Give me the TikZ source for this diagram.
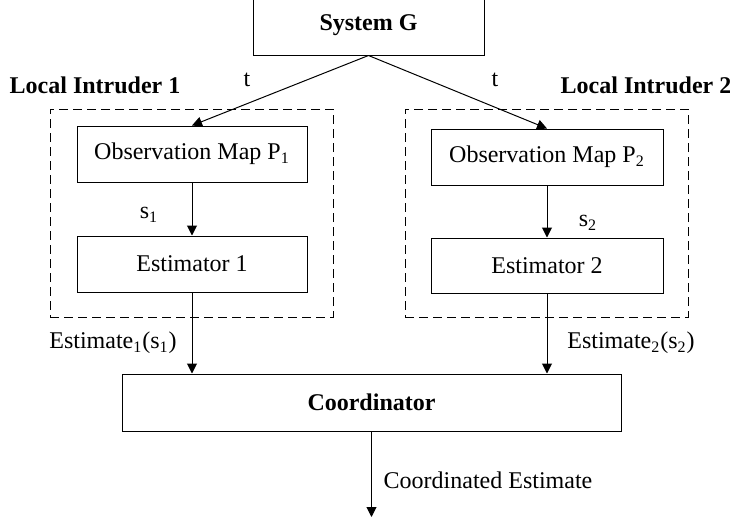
\documentclass[tikz,border=0pt]{standalone}
\usepackage{fontspec}
\setmainfont{Liberation Serif}
\usetikzlibrary{arrows.meta}
\begin{document}
\begin{tikzpicture}[x=0.5pt,y=-0.5pt,
  block/.style={draw,line width=0.5pt,inner sep=0pt,font=\fontsize{12}{14}\selectfont},
  region/.style={draw,dash pattern=on 4.5pt off 2.5pt,line width=0.5pt,inner sep=0pt},
  lbl/.style={inner sep=0pt,font=\fontsize{12}{14}\selectfont},
  flow/.style={line width=0.5pt,-{Triangle[length=5pt,width=5pt]}}]
\useasboundingbox (0,0) rectangle (730,520);

% plant (its top edge runs off the page)
\node[block,minimum width=115.5pt,minimum height=29.5pt] (sys) at (368.5,25.5) {\textbf{System G}};

% the two local intruders
\node[region,minimum width=141.5pt,minimum height=104pt] (r1) at (191.5,213) {};
\node[region,minimum width=141.5pt,minimum height=104pt] (r2) at (546.5,213) {};

\node[block,minimum width=115pt,minimum height=28pt] (o1) at (192,154) {Observation Map P\textsubscript{1}};
\node[block,minimum width=116pt,minimum height=28pt] (o2) at (547,157) {Observation Map P\textsubscript{2}};
\node[block,minimum width=115pt,minimum height=28pt] (e1) at (192,264) {Estimator 1};
\node[block,minimum width=116pt,minimum height=27.5pt] (e2) at (547,265.5) {Estimator 2};

% fusion
\node[block,minimum width=249.5pt,minimum height=28.5pt] (co) at (371.5,402.5) {\textbf{Coordinator}};
\coordinate (out) at (371.5,517);

% labels
\node[lbl] (li1) at (95,85) {\textbf{Local Intruder 1}};
\node[lbl] (li2) at (646,85) {\textbf{Local Intruder 2}};
\node[lbl] (t1) at (247,80) {t};
\node[lbl] (t2) at (495,80) {t};
\node[lbl] (s1) at (149,215) {s\textsubscript{1}};
\node[lbl] (s2) at (588,223) {s\textsubscript{2}};
\node[lbl] (est1) at (113,343) {Estimate\textsubscript{1}(s\textsubscript{1})};
\node[lbl] (est2) at (631,343) {Estimate\textsubscript{2}(s\textsubscript{2})};
\node[lbl] (ce) at (488,480) {Coordinated Estimate};

% connectors
\draw[flow] (sys.south) -- (o1.north);
\draw[flow] (sys.south) -- (o2.north);
\draw[flow] (o1) -- (e1);
\draw[flow] (o2) -- (e2);
\draw[flow] (e1) -- (co.north -| e1);
\draw[flow] (e2) -- (co.north -| e2);
\draw[flow] (co) -- (out);
\end{tikzpicture}
\end{document}
